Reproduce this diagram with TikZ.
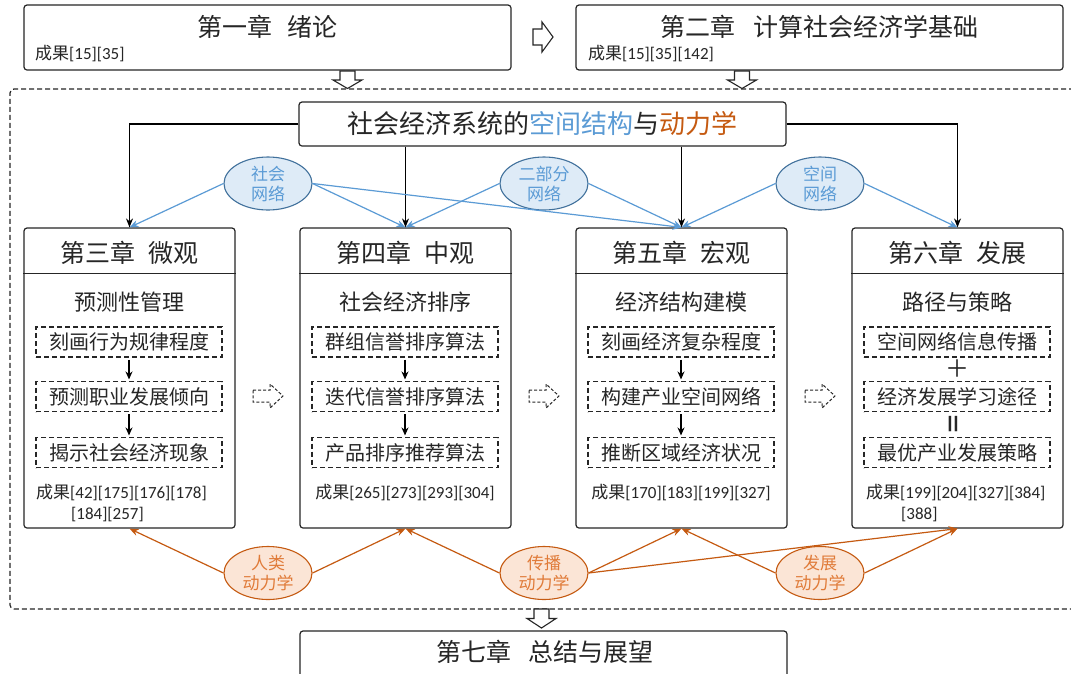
\documentclass[tikz,border=0pt]{standalone}
\usepackage{fontspec}
\setmainfont{Carlito}
\newfontfamily\cjk{Noto Sans CJK SC}
\usetikzlibrary{arrows.meta,shapes.geometric}
\definecolor{bline}{HTML}{5B9BD5}
\definecolor{bfill}{HTML}{DEEBF7}
\definecolor{bedge}{HTML}{41719C}
\definecolor{oline}{HTML}{C55A11}
\definecolor{ofill}{HTML}{FBE5D6}
\definecolor{otext}{HTML}{E07B39}
\definecolor{frame}{HTML}{262626}
\newcommand\setfs[1]{\fontsize{#1}{#1}\selectfont}
\begin{document}
\begin{tikzpicture}[x=1pt,y=-1pt,
  box/.style={draw=frame, line width=1.2pt, rounded corners=3pt, fill=white, inner sep=0pt},
  chbox/.style={box, minimum width=211pt, minimum height=300pt},
  wide/.style={box, minimum width=487pt},
  hdr/.style={font=\cjk\setfs{25}, inner sep=0pt, text=frame},
  subt/.style={font=\cjk\setfs{22}, inner sep=0pt, text=frame},
  sub/.style={draw=frame, dash pattern=on 5pt off 3pt, line width=1.1pt, minimum width=186pt, minimum height=30pt, inner sep=0pt, font=\cjk\setfs{20}, text=frame},
  res/.style={font=\setfs{17}, inner sep=0pt, text=frame},
  bell/.style={ellipse, draw=bedge, fill=bfill, line width=1.1pt, minimum width=88pt, minimum height=53pt, inner sep=0pt, align=center, font=\cjk\fontsize{17}{20}\selectfont, text=bline},
  oell/.style={ellipse, draw=oline, fill=ofill, line width=1.1pt, minimum width=88pt, minimum height=53pt, inner sep=0pt, align=center, font=\cjk\fontsize{17}{20}\selectfont, text=otext},
  blk/.style={-{Stealth[length=9pt,width=7pt]}, line width=1.2pt, draw=black},
  bl/.style={-{Stealth[length=9pt,width=7pt]}, line width=1.2pt, draw=bline},
  ol/.style={-{Stealth[length=9pt,width=7pt]}, line width=1.2pt, draw=oline},
  smallarr/.style={-{Stealth[length=8pt,width=7pt]}, line width=1.3pt, draw=black, shorten <=2pt, shorten >=1.5pt},
  hollow/.style={draw=frame, line width=1.1pt, fill=white, line join=miter},
  dhollow/.style={draw=frame, line width=1pt, fill=white, dash pattern=on 3pt off 2pt}
]
\useasboundingbox (0,0) rectangle (1071,673);
\fill[white] (0,0) rectangle (1071,673);

% top boxes
\node[wide, minimum height=65pt] (c1) at (267.5,37.5) {};
\node[hdr] (t1) at (267.5,27) {第一章\hspace{0.6em}绪论};
\node[res, anchor=base west] (r1) at (35,59.5) {{\cjk 成果}[15][35]};
\node[wide, minimum height=65pt] (c2) at (819.5,37.5) {};
\node[hdr] (t2) at (819.5,27) {第二章\hspace{0.75em}计算社会经济学基础};
\node[res, anchor=base west] (r2) at (588,59.5) {{\cjk 成果}[15][35][142]};

% hollow arrows at top
\draw[hollow, shift={(533,37)}] (0,-8) -- (9,-8) -- (9,-15) -- (20,0) -- (9,15) -- (9,8) -- (0,8) -- cycle;
\draw[hollow, shift={(347.5,71)}] (-7.5,0) -- (7.5,0) -- (7.5,9) -- (14.5,9) -- (0,17.5) -- (-14.5,9) -- (-7.5,9) -- cycle;
\draw[hollow, shift={(742,71)}] (-7.5,0) -- (7.5,0) -- (7.5,9) -- (14.5,9) -- (0,17.5) -- (-14.5,9) -- (-7.5,9) -- cycle;

% dashed frame
\draw[draw=frame, line width=1.2pt, dash pattern=on 5pt off 3pt, rounded corners=4pt] (1090,89) -- (10,89) -- (10,609) -- (1090,609);

% central box
\node[wide, minimum height=44pt] (mid) at (542.5,124) {};
\node[font=\cjk\setfs{26}, inner sep=0pt, text=frame] (midt) at (542.5,124) {社会经济系统的{\color{bline}空间结构}与{\color{oline}动力学}};

% chapter boxes
\node[chbox] (c3) at (129.5,378) {};
\node[chbox] (c4) at (405.5,378) {};
\node[chbox] (c5) at (681.5,378) {};
\node[chbox] (c6) at (957.5,378) {};
\foreach \n in {c3,c4,c5,c6}{
  \draw[draw=frame, line width=1.2pt] (\n.west |- 0,273.5) -- (\n.east |- 0,273.5);
}
\node[hdr] (h3) at (129.5,253) {第三章\hspace{0.55em}微观};
\node[hdr] (h4) at (405.5,253) {第四章\hspace{0.55em}中观};
\node[hdr] (h5) at (681.5,253) {第五章\hspace{0.55em}宏观};
\node[hdr] (h6) at (957.5,253) {第六章\hspace{0.55em}发展};
\node[subt] (s3) at (129.5,302) {预测性管理};
\node[subt] (s4) at (405.5,302) {社会经济排序};
\node[subt] (s5) at (681.5,302) {经济结构建模};
\node[subt] (s6) at (957.5,302) {路径与策略};

% sub boxes
\node[sub] (a31) at (129,342) {刻画行为规律程度};
\node[sub] (a32) at (129,396.5) {预测职业发展倾向};
\node[sub] (a33) at (129,452.5) {揭示社会经济现象};
\node[sub] (a41) at (405,342) {群组信誉排序算法};
\node[sub] (a42) at (405,396.5) {迭代信誉排序算法};
\node[sub] (a43) at (405,452.5) {产品排序推荐算法};
\node[sub] (a51) at (681,342) {刻画经济复杂程度};
\node[sub] (a52) at (681,396.5) {构建产业空间网络};
\node[sub] (a53) at (681,452.5) {推断区域经济状况};
\node[sub] (a61) at (957,342) {空间网络信息传播};
\node[sub] (a62) at (957,396.5) {经济发展学习途径};
\node[sub] (a63) at (957,452.5) {最优产业发展策略};
\draw[smallarr] (a31) -- (a32);
\draw[smallarr] (a32) -- (a33);
\draw[smallarr] (a41) -- (a42);
\draw[smallarr] (a42) -- (a43);
\draw[smallarr] (a51) -- (a52);
\draw[smallarr] (a52) -- (a53);
\node[font=\cjk\setfs{24}, inner sep=0pt, text=frame] (plus) at (957,368.5) {＋};
\node[font=\setfs{38}, inner sep=0pt, text=frame, rotate=90] (eq) at (957,424.5) {=};

% results
\node[res, anchor=base west] (r3a) at (36,498.5) {{\cjk 成果}[42][175][176][178]};
\node[res, anchor=base west] (r3b) at (71,519.5) {[184][257]};
\node[res, anchor=base] (r4) at (405,498.5) {{\cjk 成果}[265][273][293][304]};
\node[res, anchor=base] (r5) at (681,498.5) {{\cjk 成果}[170][183][199][327]};
\node[res, anchor=base west] (r6a) at (866,498.5) {{\cjk 成果}[199][204][327][384]};
\node[res, anchor=base west] (r6b) at (901,519.5) {[388]};

% dashed hollow arrows between chapters
\foreach \sx in {253,529,805}{
  \draw[dhollow, shift={(\sx,396)}] (0,-6) -- (17,-6) -- (17,-12) -- (30,0) -- (17,12) -- (17,6) -- (0,6) -- cycle;
}

% black arrows
\draw[blk] (mid.west) -| (c3.north);
\draw[blk] (mid.east) -| (c6.north);
\draw[blk] (c4.north |- mid.south) -- (c4.north);
\draw[blk] (c5.north |- mid.south) -- (c5.north);

% blue ellipses
\node[bell] (e1) at (268,183.5) {社会\\网络};
\node[bell] (e2) at (544,183.5) {二部分\\网络};
\node[bell] (e3) at (820,183.5) {空间\\网络};
\draw[bl] (e1.west) -- (c3.north);
\draw[bl] (e1.east) -- (c4.north);
\draw[bl] (e1.east) -- (c5.north);
\draw[bl] (e2.west) -- (c4.north);
\draw[bl] (e2.east) -- (c5.north);
\draw[bl] (e3.west) -- (c5.north);
\draw[bl] (e3.east) -- (c6.north);

% orange ellipses
\node[oell] (o1) at (268,573) {人类\\动力学};
\node[oell] (o2) at (544,573) {传播\\动力学};
\node[oell] (o3) at (820,573) {发展\\动力学};
\draw[ol] (o1.west) -- (c3.south);
\draw[ol] (o1.east) -- (c4.south);
\draw[ol] (o2.west) -- (c4.south);
\draw[ol] (o2.east) -- (c5.south);
\draw[ol] (o2.east) -- (c6.south);
\draw[ol] (o3.west) -- (c5.south);
\draw[ol] (o3.east) -- (c6.south);

% bottom
\draw[hollow, shift={(541.5,609)}] (-7.5,0) -- (7.5,0) -- (7.5,9.5) -- (14.5,9.5) -- (0,19) -- (-14.5,9.5) -- (-7.5,9.5) -- cycle;
\node[wide, minimum height=70pt] (c7) at (543.5,666) {};
\node[hdr] (t7) at (545,652) {第七章\hspace{0.7em}总结与展望};
\end{tikzpicture}
\end{document}
